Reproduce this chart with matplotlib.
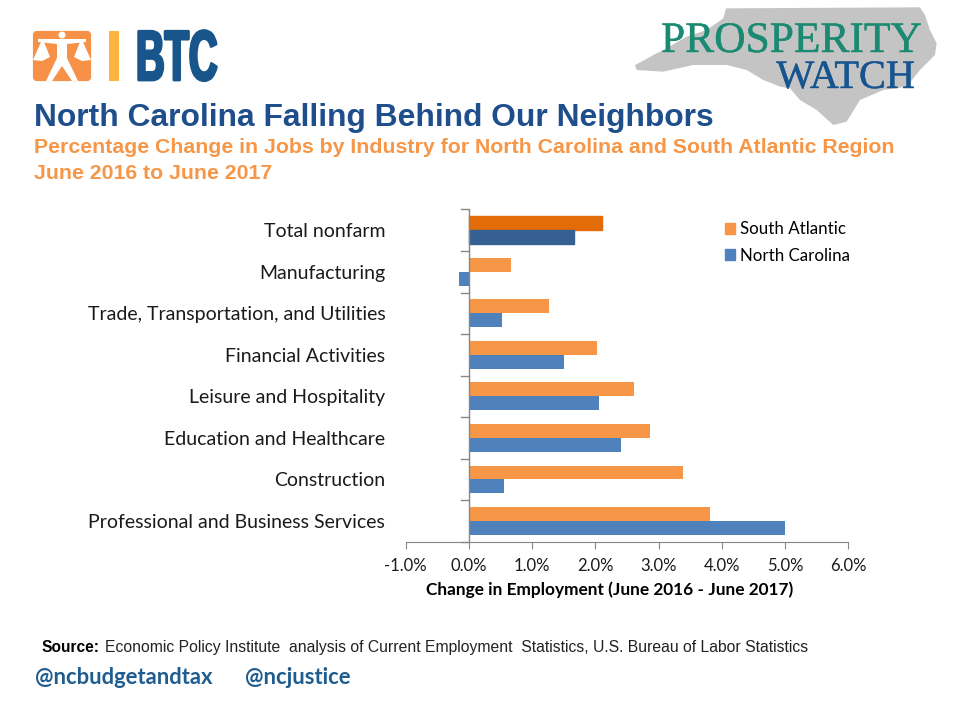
import matplotlib
matplotlib.use("Agg")
import matplotlib.pyplot as plt
import matplotlib.patheffects as pe
from matplotlib.patches import Polygon, Rectangle, FancyBboxPatch, Circle
from matplotlib.ticker import FuncFormatter
from matplotlib.transforms import Affine2D
import numpy as np

# chart values, top category first
industries = ["Total nonfarm", "Manufacturing", "Trade, Transportation, and Utilities",
              "Financial Activities", "Leisure and Hospitality", "Education and Healthcare",
              "Construction", "Professional and Business Services"]
south_atlantic = [2.11, 0.67, 1.27, 2.03, 2.61, 2.87, 3.39, 3.81]
north_carolina = [1.67, -0.15, 0.52, 1.51, 2.06, 2.41, 0.56, 5.00]
x_ticks = [-1, 0, 1, 2, 3, 4, 5, 6]

ORANGE, BLUE = "#F79646", "#4F81BD"
DARK_ORANGE, DARK_BLUE = "#E36C09", "#376092"
W, H = 960, 720


class Squeeze(pe.AbstractPathEffect):
    # no narrow bold font installed, so the BTC wordmark is condensed when drawn
    def __init__(self, x0, factor, stroke):
        super().__init__()
        self.x0, self.factor, self.stroke = x0, factor, stroke

    def draw_path(self, renderer, gc, tpath, affine, rgbFace=None):
        squeeze = Affine2D().translate(-self.x0, 0).scale(self.factor, 1).translate(self.x0, 0)
        gc0 = renderer.new_gc()
        gc0.copy_properties(gc)
        gc0.set_foreground(rgbFace)
        gc0.set_linewidth(self.stroke)
        renderer.draw_path(gc0, tpath, affine + squeeze, rgbFace)
        gc0.restore()


fig = plt.figure(figsize=(9.6, 7.2), dpi=100)

# === Background layer in pixel coordinates: logos and slide text ===
bg = fig.add_axes([0, 0, 1, 1])
bg.set_xlim(0, W)
bg.set_ylim(H, 0)
bg.axis("off")

state = [(318, 25), (900, 22), (915, 45), (930, 90), (950, 130), (945, 165), (900, 210),
         (860, 260), (790, 270), (720, 300), (680, 365), (640, 375), (590, 330), (540, 300),
         (510, 265), (480, 260), (430, 240), (380, 210), (320, 195), (220, 195), (130, 215),
         (50, 210), (45, 195), (65, 185), (100, 165), (130, 150), (200, 110), (260, 90), (310, 55)]
bg.add_patch(Polygon([(620 + a / 3, b / 3) for a, b in state], color="#C4C4C4", lw=0))
bg.text(791.5, 52, "PROSPERITY", family="Liberation Serif", fontsize=31.3, color="#1B8A72",
        ha="center", va="baseline", path_effects=[pe.withStroke(linewidth=0.3, foreground="#1B8A72")])
bg.text(845.5, 88, "WATCH", family="Liberation Serif", fontsize=29, color="#17558F",
        ha="center", va="baseline", path_effects=[pe.withStroke(linewidth=0.3, foreground="#17558F")])

# BTC logo
bg.add_patch(FancyBboxPatch((35, 33), 54, 46, boxstyle="round,pad=0,rounding_size=2",
                            mutation_aspect=1, fc="#F79148", ec="#F79148", lw=3))
bg.add_patch(Circle((62, 35), 3.5, color="white", lw=0))
bg.add_patch(Polygon([(38, 39), (86, 39), (86, 42), (67, 44), (67, 58), (78, 81), (72, 81),
                      (62, 66), (52, 81), (46, 81), (57, 58), (57, 44), (38, 42)],
                     color="white", lw=0))
bg.add_patch(Polygon([(33, 60), (41, 42), (44, 42), (50, 57), (42, 61)], color="white", lw=0))
bg.add_patch(Polygon([(74, 57), (80, 42), (83, 42), (91, 60), (82, 61)], color="white", lw=0))
bg.add_patch(Rectangle((109, 31), 9.5, 50, color="#FDB53F", lw=0))
bg.text(136, 80, "BTC", family="Liberation Sans", fontweight="bold", fontsize=51, color="#17558A",
        ha="left", va="baseline", path_effects=[Squeeze(136, 0.56, 2.0)])

bg.text(34, 126, "North Carolina Falling Behind Our Neighbors", family="Liberation Sans",
        fontweight="bold", fontsize=22.9, color="#1F4E8C", va="baseline")
bg.text(34, 153, "Percentage Change in Jobs by Industry for North Carolina and South Atlantic Region",
        family="Liberation Sans", fontweight="bold", fontsize=15.3, color="#F79646", va="baseline")
bg.text(34, 179, "June 2016 to June 2017", family="Liberation Sans", fontweight="bold",
        fontsize=15.3, color="#F79646", va="baseline")

bg.text(42, 652, "Source:", family="Liberation Sans", fontweight="bold", fontsize=11.2,
        color="black", va="baseline")
bg.text(105, 652, "Economic Policy Institute  analysis of Current Employment  Statistics, U.S. Bureau of Labor Statistics",
        family="Liberation Sans", fontsize=11.35, color="#222222", va="baseline")
bg.text(35, 684, "@ncbudgetandtax", family="Lato", fontweight="bold", fontsize=15.8,
        color="#1F5C8F", va="baseline")
bg.text(245, 684, "@ncjustice", family="Lato", fontweight="bold", fontsize=15.8,
        color="#1F5C8F", va="baseline")

# === Bar chart ===
ax = fig.add_axes([405.5 / W, 1 - 541.7 / H, (848.3 - 405.5) / W, (541.7 - 209.5) / H])
ax.patch.set_alpha(0)

y = np.arange(len(industries))
bar_h = 0.335
sa_bars = ax.barh(y - bar_h / 2, south_atlantic, bar_h, color=ORANGE, label="South Atlantic")
nc_bars = ax.barh(y + bar_h / 2, north_carolina, bar_h, color=BLUE, label="North Carolina")
# first category is highlighted in darker shades
sa_bars[0].set_color(DARK_ORANGE)
nc_bars[0].set_color(DARK_BLUE)

ax.set_ylim(len(industries) - 0.5, -0.5)
ax.set_xlim(x_ticks[0], x_ticks[-1])
ax.set_xticks(x_ticks)
ax.xaxis.set_major_formatter(FuncFormatter(lambda v, p: f"{v:.1f}%"))
ax.set_yticks(y)
ax.set_yticklabels(industries)

for side in ["top", "right", "left"]:
    ax.spines[side].set_visible(False)
ax.spines["bottom"].set_color("#868686")
ax.axvline(0, color="#868686", lw=1, zorder=3)

ax.tick_params(axis="y", length=0, pad=14.5, labelsize=14, labelcolor="#1a1a1a",
               labelfontfamily="Lato")
ax.tick_params(axis="x", length=5, color="#868686", labelsize=12, labelcolor="#1a1a1a",
               pad=7, labelfontfamily="Lato")

# y tick marks sit on the zero line, not on the axes edge
for b in np.arange(len(industries) + 1) - 0.5:
    ax.plot([-8 / 63.33, 0], [b, b], color="#868686", lw=1, clip_on=False, zorder=3)

ax.set_xlabel("Change in Employment (June 2016 - June 2017)", family="Lato", fontweight="bold",
              fontsize=12.4, color="black")
ax.xaxis.set_label_coords(0.462, -0.121)

ax.legend(loc="upper left", bbox_to_anchor=(0.7215, 0.965), frameon=False,
          prop={"family": "Lato", "size": 12.2}, handlelength=0.6, handleheight=0.6,
          handletextpad=0.3, labelspacing=0.62, borderpad=0, borderaxespad=0)
leg = ax.get_legend()
leg.legend_handles[0].set_color(ORANGE)
leg.legend_handles[1].set_color(BLUE)

fig.savefig("out.png", dpi=100)
